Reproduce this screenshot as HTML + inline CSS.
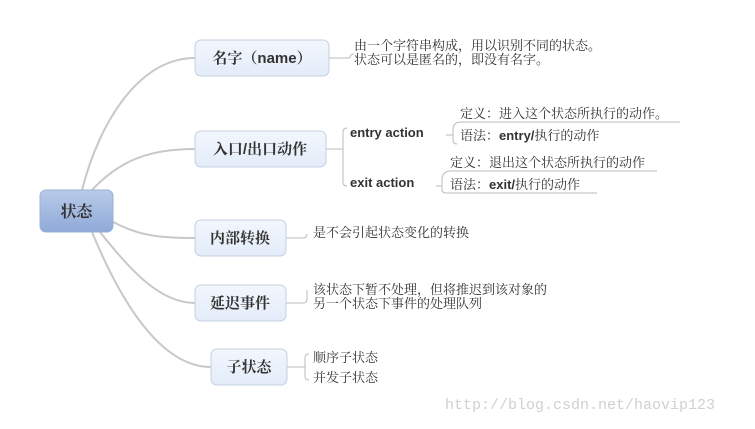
<!DOCTYPE html>
<html><head><meta charset="utf-8"><style>
body{margin:0;background:#fff;width:755px;height:424px;overflow:hidden}
text{font-family:"Liberation Sans","Noto Serif CJK SC","Noto Sans CJK SC",sans-serif;fill:#333}
</style></head><body>
<svg width="755" height="424" viewBox="0 0 755 424" xmlns="http://www.w3.org/2000/svg">
<defs>
<linearGradient id="r" x1="0" y1="0" x2="0" y2="1"><stop offset="0" stop-color="#b9cbe8"/><stop offset="1" stop-color="#8eaad8"/></linearGradient>
<linearGradient id="n" x1="0" y1="0" x2="0" y2="1"><stop offset="0" stop-color="#f3f7fd"/><stop offset="1" stop-color="#e3ecf9"/></linearGradient>
</defs>
<g fill="none" stroke="#c8c8c8" stroke-width="2">
<path d="M82 190 C100 120 140 58 195 58"/>
<path d="M92 190 C120 160 150 149 195 149"/>
<path d="M113 222 C140 236 160 238 195 238"/>
<path d="M100 232 C130 270 160 303 195 303"/>
<path d="M92 232 C120 300 160 367 211 367"/>
</g>
<g fill="none" stroke="#bbb" stroke-width="1">
<path d="M329 58 H350 M350 58 q0 -4 4 -4"/>
<path d="M326 149 H343 M343 132 V182 M343 132 q0 -4 4 -4 M343 182 q0 4 4 4"/>
<path d="M446 135 h7 M453 130 q0 -8 8 -8 H680 M453 130 V140 q0 4 4 4"/>
<path d="M436 186 h6 M442 180 q0 -9 9 -9 H657 M442 180 V189 q0 4 4 4 H597"/>
<path d="M286 238 H303 q4 0 4 -4"/>
<path d="M286 303 H303 q4 0 4 -4 M307 299 V290"/>
<path d="M287 367 H305 M305 358 V376 q0 4 4 4 M305 358 q0 -4 4 -4"/>
</g>
<rect x="40" y="190" width="73" height="42" rx="6" fill="url(#r)" stroke="#9ab0d4"/>
<text x="76.5" y="217" font-size="16" font-weight="bold" text-anchor="middle">状态</text>
<g fill="url(#n)" stroke="#c4cfe0">
<rect x="195" y="40" width="134" height="36" rx="6"/>
<rect x="195" y="131" width="131" height="36" rx="6"/>
<rect x="195" y="220" width="91" height="36" rx="6"/>
<rect x="195" y="285" width="91" height="36" rx="6"/>
<rect x="211" y="349" width="76" height="36" rx="6"/>
</g>
<g font-size="15" font-weight="bold" text-anchor="middle">
<text x="262" y="63">名字（name）</text>
<text x="260" y="154">入口/出口动作</text>
<text x="240" y="243">内部转换</text>
<text x="240" y="308">延迟事件</text>
<text x="249" y="372">子状态</text>
</g>
<g font-size="13">
<text x="354" y="50">由一个字符串构成，用以识别不同的状态。</text>
<text x="354" y="64">状态可以是匿名的，即没有名字。</text>
<text x="350" y="137" font-weight="bold" font-size="13">entry action</text>
<text x="350" y="187" font-weight="bold" font-size="13">exit action</text>
<text x="460" y="118">定义：进入这个状态所执行的动作。</text>
<text x="460" y="140">语法：<tspan font-weight="bold">entry/</tspan>执行的动作</text>
<text x="450" y="167">定义：退出这个状态所执行的动作</text>
<text x="450" y="189">语法：<tspan font-weight="bold">exit/</tspan>执行的动作</text>
<text x="313" y="237">是不会引起状态变化的转换</text>
<text x="313" y="294">该状态下暂不处理，但将推迟到该对象的</text>
<text x="313" y="308">另一个状态下事件的处理队列</text>
<text x="313" y="362">顺序子状态</text>
<text x="313" y="382">并发子状态</text>
</g>
<text x="445" y="409" font-size="15" style="font-family:'Liberation Mono',monospace;fill:#d0d0d0">http://blog.csdn.net/haovip123</text>
</svg>
</body></html>
